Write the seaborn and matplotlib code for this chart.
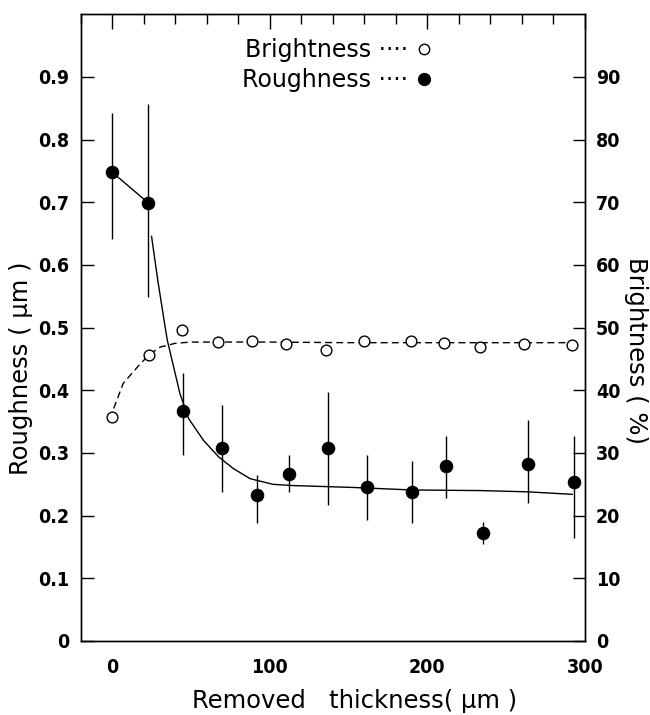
#!/usr/bin/env python
import numpy as np
import pandas as pd
import matplotlib
matplotlib.use("Agg")
import matplotlib.pyplot as plt
from matplotlib.lines import Line2D
from matplotlib.ticker import MultipleLocator
import seaborn as sns

sns.set_style("white")
plt.rcParams["font.family"] = ["DejaVu Sans"]
plt.rcParams.update({"text.color": "black", "axes.labelcolor": "black",
                     "xtick.color": "black", "ytick.color": "black"})

# roughness points (um) with error bar ends
x_rough = [0, 23, 45, 70, 92, 112, 137, 162, 190, 212, 235, 264, 293]
roughness = [0.748, 0.699, 0.367, 0.308, 0.233, 0.267, 0.308, 0.246, 0.237, 0.279, 0.173, 0.283, 0.253]
rough_lo = [0.642, 0.549, 0.296, 0.238, 0.188, 0.238, 0.217, 0.193, 0.188, 0.228, 0.155, 0.220, 0.165]
rough_hi = [0.843, 0.857, 0.427, 0.376, 0.265, 0.296, 0.397, 0.296, 0.287, 0.327, 0.190, 0.352, 0.327]

# brightness points (%)
x_bright = [0, 23.5, 44.6, 67, 89, 110, 135.7, 159.6, 189.6, 210.8, 233.7, 261, 292]
brightness = [35.7, 45.7, 49.7, 47.7, 47.8, 47.4, 46.4, 47.9, 47.9, 47.5, 46.9, 47.4, 47.3]

# guide curves
x_rfit = [25, 29, 33, 35, 43, 48.5, 58, 67.5, 77, 87.6, 102, 115, 153, 190, 234, 264, 292]
rfit = [0.646, 0.575, 0.511, 0.48, 0.395, 0.355, 0.32, 0.294, 0.275, 0.259, 0.250, 0.248, 0.245, 0.241, 0.240, 0.238, 0.234]
x_bfit = [1, 7, 16, 23.5, 30.5, 40, 50, 70, 100, 150, 200, 250, 292]
bfit = [37.1, 41.1, 43.7, 45.7, 46.9, 47.5, 47.7, 47.7, 47.7, 47.6, 47.6, 47.6, 47.6]

rough_df = pd.DataFrame({"x": x_rough, "r": roughness})
bright_df = pd.DataFrame({"x": x_bright, "b": brightness})

tick_font = dict(family="DejaVu Sans", weight="bold", stretch="condensed", size=14)
label_font = dict(family="DejaVu Sans", size=17.5)

fig = plt.figure(figsize=(6.5, 7.15), dpi=100)
ax1 = fig.add_axes([0.124, 0.1035, 0.776, 0.8765])
ax2 = ax1.twinx()

# roughness
ax1.vlines(x_rough, rough_lo, rough_hi, color="black", lw=1)
sns.lineplot(x=x_rough[:2], y=roughness[:2], color="black", lw=1, ax=ax1)
sns.lineplot(x=x_rfit, y=rfit, color="black", lw=1, sort=False, estimator=None, ax=ax1)
sns.scatterplot(data=rough_df, x="x", y="r", color="black", s=80, edgecolor="black",
                linewidth=0.8, zorder=5, ax=ax1)

# brightness
sns.lineplot(x=x_bfit, y=bfit, color="black", lw=1, ls=(0, (5, 3)), sort=False,
             estimator=None, ax=ax2)
sns.scatterplot(data=bright_df, x="x", y="b", color="white", s=60, edgecolor="black",
                linewidth=1, zorder=5, ax=ax2)

ax1.set_xlim(-20, 300)
ax1.set_ylim(0, 1.0)
ax2.set_ylim(0, 100)

ax1.set_xticks([0, 100, 200, 300])
ax1.xaxis.set_minor_locator(MultipleLocator(20))
ax1.set_yticks(np.arange(0, 1.0, 0.1))
ax1.set_yticklabels(["0"] + [f"{v:.1f}" for v in np.arange(0.1, 0.95, 0.1)], fontdict=tick_font)
ax1.set_xticklabels(["0", "100", "200", "300"], fontdict=tick_font)
ax2.set_yticks(np.arange(0, 100, 10))
ax2.set_yticklabels([str(v) for v in range(0, 100, 10)], fontdict=tick_font)

ax1.tick_params(axis="x", which="major", direction="in", length=11, width=1, top=True, pad=12)
ax1.tick_params(axis="x", which="minor", direction="in", length=7, width=1, top=True)
ax1.tick_params(axis="y", direction="in", length=9, width=1, pad=8)
ax2.tick_params(axis="y", direction="in", length=9, width=1, pad=8)
for ax in (ax1, ax2):
    for s in ax.spines.values():
        s.set_color("black")
        s.set_linewidth(1)

ax1.set_xlabel("Removed   thickness( μm )", fontdict=label_font)
ax1.set_ylabel("Roughness ( μm )", fontdict=label_font)
ax2.set_ylabel("Brightness ( %)", fontdict=label_font, rotation=270)
ax1.xaxis.set_label_coords(0.544, -0.076)
ax1.yaxis.set_label_coords(-0.095, 0.435)
ax2.yaxis.set_label_coords(1.125, 0.464)

handles = [
    Line2D([], [], ls="none", marker="o", ms=7.5, mfc="white", mec="black", mew=1),
    Line2D([], [], ls="none", marker="o", ms=8.5, mfc="black", mec="black"),
]
ax1.legend(handles, ["Brightness ····", "Roughness ····"], markerfirst=False, frameon=False,
           loc="center", bbox_to_anchor=(0.51, 0.919), handlelength=0.8, handletextpad=0.3,
           labelspacing=0.25, prop=dict(family="DejaVu Sans", size=17))

fig.savefig("out.png", dpi=100)
